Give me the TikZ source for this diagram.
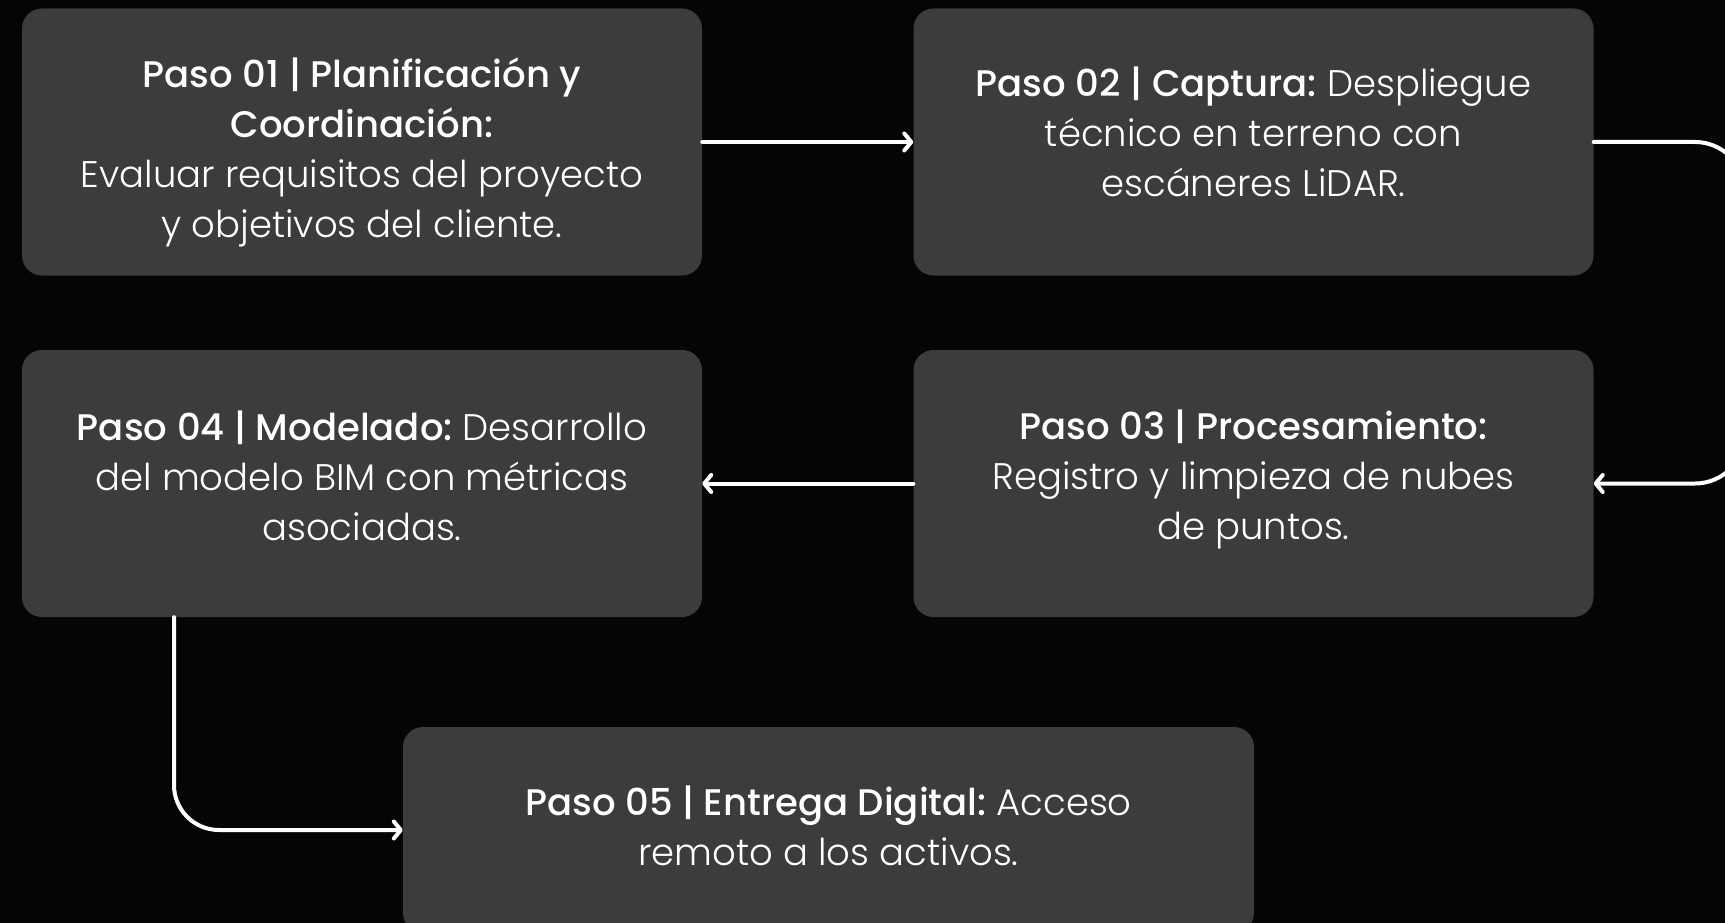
\documentclass[tikz,border=0pt]{standalone}
\usepackage{fontspec}
\setmainfont{Poppins}[UprightFont={* Light}, BoldFont={* Medium}]
\usetikzlibrary{arrows.meta}
\definecolor{boxgray}{HTML}{3C3C3C}
\definecolor{bgblack}{HTML}{050505}
\frenchspacing
\begin{document}
\begin{tikzpicture}[x=1pt,y=-1pt,
  stepbox/.style={fill=boxgray, rounded corners=20pt, minimum width=680pt,
    minimum height=267pt, inner sep=0pt},
  steptext/.style={align=center, text=white, inner sep=0pt,
    font=\fontsize{37}{50}\selectfont},
  conn/.style={draw=white, line width=4pt, line cap=round,
    -{Straight Barb[round,length=7pt,width=17pt]}}]
\useasboundingbox (0,0) rectangle (1725,923);
\clip (0,0) rectangle (1725,923);
\fill[bgblack] (0,0) rectangle (1725,923);

\node[stepbox] (b1) at (362,142) {};
\node[stepbox] (b2) at (1253.5,142) {};
\node[stepbox] (b3) at (1253.5,483.5) {};
\node[stepbox] (b4) at (362,483.5) {};
\node[stepbox, minimum width=851pt, minimum height=206pt] (b5) at (828.5,830) {};

\node[steptext] (t1) at ([yshift=-10pt]b1.center) {\textbf{Paso 01 | Planificación y}\\\textbf{Coordinación:}\\Evaluar requisitos del proyecto\\y objetivos del cliente.};
\node[steptext] (t2) at ([yshift=10pt]b2.center) {\textbf{Paso 02 | Captura:} Despliegue\\técnico en terreno con\\escáneres LiDAR.};
\node[steptext] (t3) at ([yshift=4.5pt]b3.center) {\textbf{Paso 03 | Procesamiento:}\\Registro y limpieza de nubes\\de puntos.};
\node[steptext] (t4) at ([yshift=8pt]b4.center) {\textbf{Paso 04 | Modelado:} Desarrollo\\del modelo BIM con métricas\\asociadas.};
\node[steptext] (t5) at ([yshift=4.5pt]b5.center) {\textbf{Paso 05 | Entrega Digital:} Acceso\\remoto a los activos.};

\coordinate (r) at (1745,312);
\draw[conn] (b1.east) -- (b2.west);
\draw[conn, rounded corners=50pt] (b2.east) -| (r) |- (b3.east);
\draw[conn] (b3.west) -- (b4.east);
\draw[conn, rounded corners=45pt] ([xshift=-188pt]b4.south) |- (b5.west);
\end{tikzpicture}
\end{document}
